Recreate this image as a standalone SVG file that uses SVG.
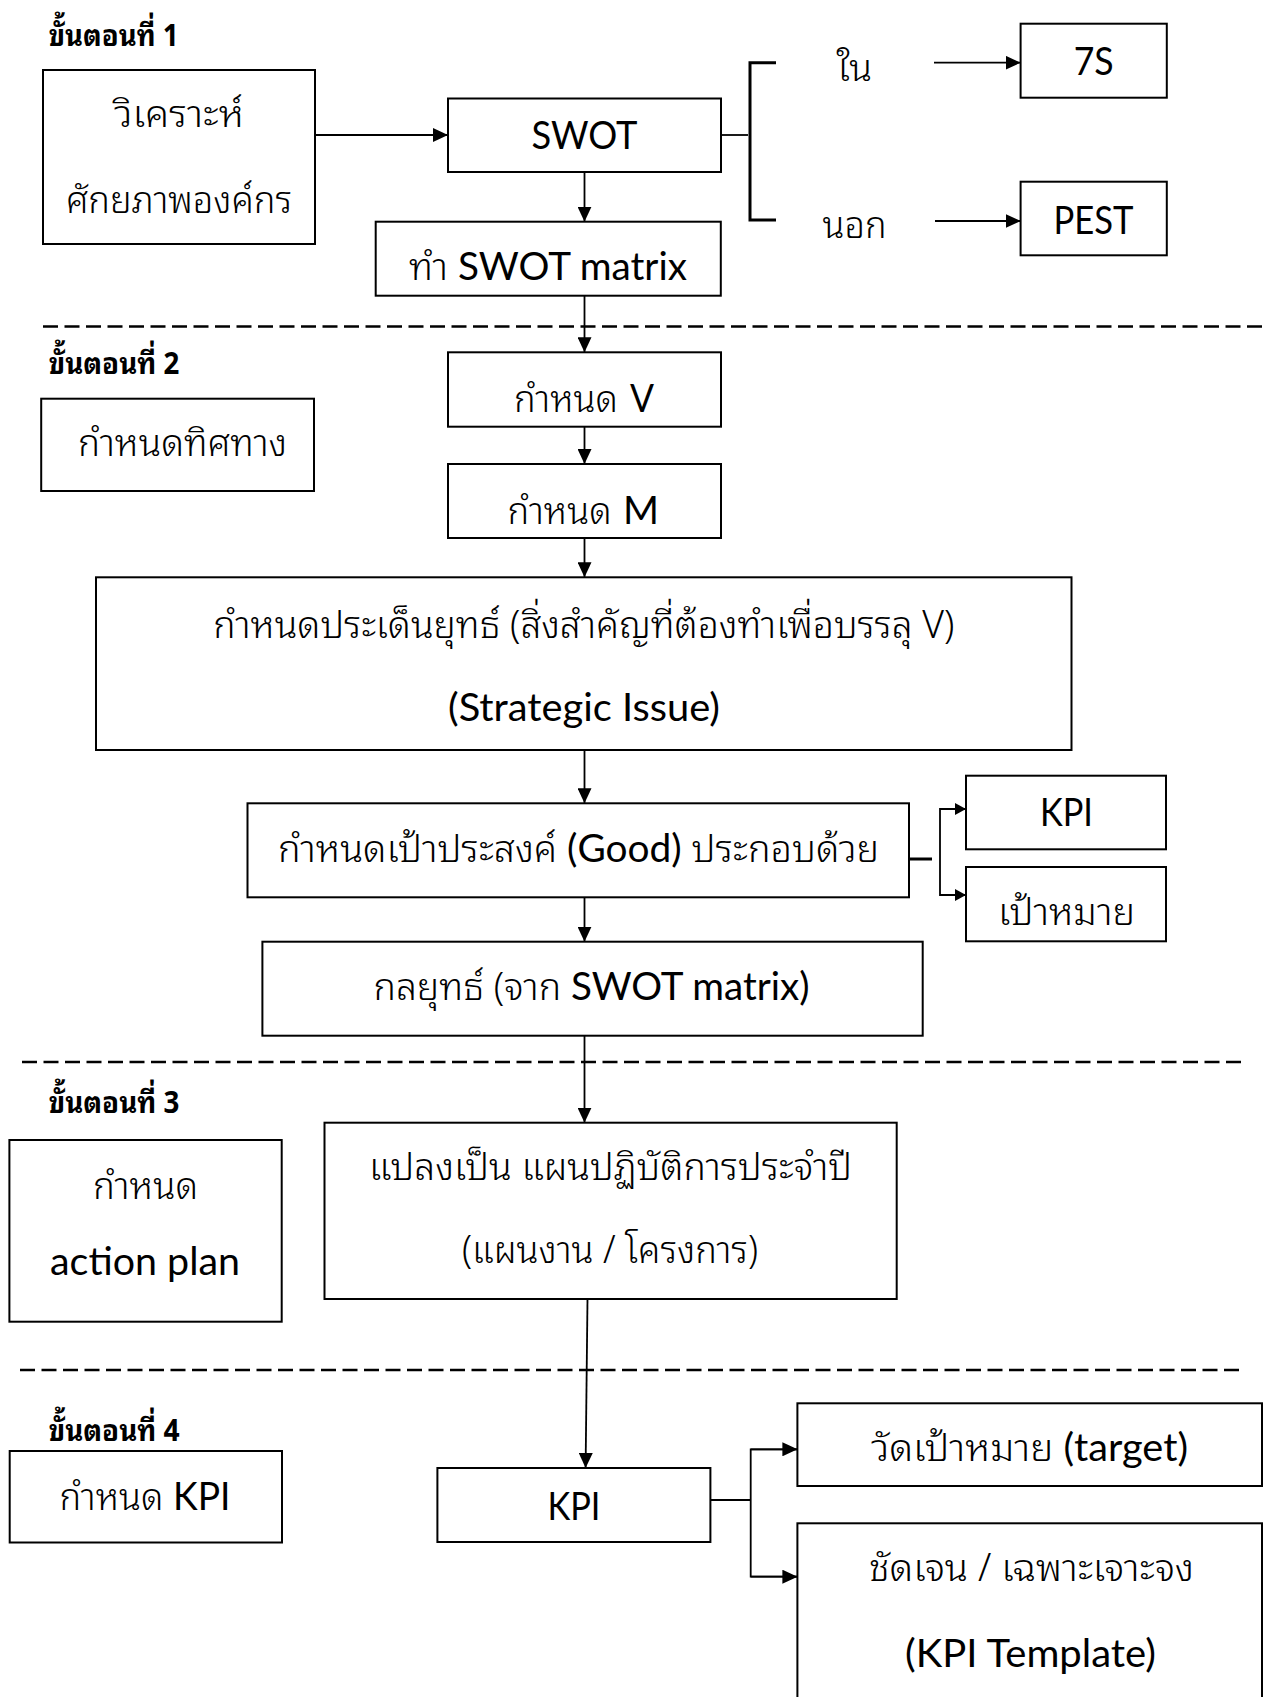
<svg xmlns="http://www.w3.org/2000/svg" width="1263" height="1697" viewBox="0 0 1263 1697">
<style>
.box{fill:#fff;stroke:#000;stroke-width:2}
.ln{fill:none;stroke:#000;stroke-width:1.8}
.br{fill:none;stroke:#000;stroke-width:3}
.dash{fill:none;stroke:#000;stroke-width:2.5;stroke-dasharray:15 6.5}
.t{font-family:Lato,"Noto Sans Thai Looped","Noto Sans Thai",Loma,Garuda,sans-serif;font-size:39px;text-anchor:middle;fill:#000}
.s{text-anchor:start}
.th{font-family:"Noto Sans Thai Looped","Noto Sans Thai",Loma,Garuda,sans-serif;font-size:38px;font-weight:300}
.step{font-family:"Noto Sans Thai Looped","Noto Sans Thai",Loma,Garuda,sans-serif;font-size:30px;font-weight:bold;fill:#000}
</style>
<defs>
<marker id="ah" viewBox="0 0 15 14" refX="15" refY="7" markerWidth="15" markerHeight="14" markerUnits="userSpaceOnUse" orient="auto"><path d="M0,0 L15,7 L0,14 z" fill="#000"/></marker>
<marker id="as" viewBox="0 0 11 12" refX="11" refY="6" markerWidth="11" markerHeight="12" markerUnits="userSpaceOnUse" orient="auto"><path d="M0,0 L11,6 L0,12 z" fill="#000"/></marker>
</defs>
<rect width="1263" height="1697" fill="#fff"/>

<g id="separators">
<line class="dash" x1="43" y1="326.5" x2="1263" y2="326.5"/>
<line class="dash" x1="22" y1="1062" x2="1241" y2="1062"/>
<line class="dash" x1="20" y1="1370" x2="1240" y2="1370"/>
</g>

<g id="step-labels">
<text class="step" x="48.7" y="45.5" textLength="130" lengthAdjust="spacingAndGlyphs">ขั้นตอนที่ 1</text>
<text class="step" x="48.7" y="373.5" textLength="131" lengthAdjust="spacingAndGlyphs">ขั้นตอนที่ 2</text>
<text class="step" x="48.7" y="1112.6" textLength="131" lengthAdjust="spacingAndGlyphs">ขั้นตอนที่ 3</text>
<text class="step" x="48.7" y="1440.5" textLength="131" lengthAdjust="spacingAndGlyphs">ขั้นตอนที่ 4</text>
</g>

<g id="connectors">
<line class="ln" x1="315" y1="135" x2="448" y2="135" marker-end="url(#ah)"/>
<line class="ln" x1="721" y1="135" x2="748" y2="135"/>
<path class="br" d="M776,62.7 H750 V220 H776"/>
<line class="ln" x1="934" y1="62.7" x2="1020.6" y2="62.7" marker-end="url(#ah)"/>
<line class="ln" x1="935" y1="221" x2="1020.6" y2="221" marker-end="url(#ah)"/>
<line class="ln" x1="584.5" y1="172" x2="584.5" y2="221.7" marker-end="url(#ah)"/>
<line class="ln" x1="584.5" y1="295.7" x2="584.5" y2="352.3" marker-end="url(#ah)"/>
<line class="ln" x1="584.5" y1="426.7" x2="584.5" y2="464" marker-end="url(#ah)"/>
<line class="ln" x1="584.5" y1="538" x2="584.5" y2="577.3" marker-end="url(#ah)"/>
<line class="ln" x1="584.5" y1="750" x2="584.5" y2="803.3" marker-end="url(#ah)"/>
<line class="br" x1="909" y1="859" x2="932" y2="859"/>
<path class="ln" d="M966,809 H940 V895 H966" stroke-width="2.5"/>
<line class="ln" x1="940" y1="809" x2="966" y2="809" marker-end="url(#as)"/>
<line class="ln" x1="940" y1="895" x2="966" y2="895" marker-end="url(#as)"/>
<line class="ln" x1="584.5" y1="890" x2="584.5" y2="941.7" marker-end="url(#ah)"/>
<line class="ln" x1="584.5" y1="1035.7" x2="584.5" y2="1122.7" marker-end="url(#ah)"/>
<line class="ln" x1="587.5" y1="1299" x2="585.6" y2="1468" marker-end="url(#ah)"/>
<line class="ln" x1="710.4" y1="1500" x2="750.7" y2="1500" stroke-width="2.5"/>
<path class="ln" d="M797.4,1449.3 H750.7 V1576.7 H797.4" stroke-width="2.5"/>
<line class="ln" x1="750.7" y1="1449.3" x2="797.4" y2="1449.3" marker-end="url(#ah)"/>
<line class="ln" x1="750.7" y1="1576.7" x2="797.4" y2="1576.7" marker-end="url(#ah)"/>
</g>

<g id="n-analyze">
<rect class="box" x="43" y="70" width="272" height="174"/>
<text class="t th" x="179" y="126.6" textLength="130" lengthAdjust="spacingAndGlyphs">วิเคราะห์</text>
<text class="t th" x="179" y="213" textLength="226" lengthAdjust="spacingAndGlyphs">ศักยภาพองค์กร</text>
</g>
<g id="n-swot">
<rect class="box" x="448" y="98.5" width="273" height="73.5"/>
<text class="t" x="584.5" y="149.4" textLength="106" lengthAdjust="spacingAndGlyphs">SWOT</text>
</g>
<g id="n-in-label">
<text class="t th" x="854.3" y="81" textLength="35.5" lengthAdjust="spacingAndGlyphs">ใน</text>
</g>
<g id="n-out-label">
<text class="t th" x="854.5" y="238" textLength="64" lengthAdjust="spacingAndGlyphs">นอก</text>
</g>
<g id="n-7s">
<rect class="box" x="1020.6" y="23.7" width="146.2" height="74"/>
<text class="t" x="1093.7" y="74.7" textLength="40" lengthAdjust="spacingAndGlyphs">7S</text>
</g>
<g id="n-pest">
<rect class="box" x="1020.6" y="181.7" width="146.2" height="73.6"/>
<text class="t" x="1093.5" y="233.8" textLength="80" lengthAdjust="spacingAndGlyphs">PEST</text>
</g>
<g id="n-matrix">
<rect class="box" x="375.7" y="221.7" width="345.1" height="74"/>
<text class="t" x="548" y="280" textLength="278" lengthAdjust="spacingAndGlyphs"><tspan class="th">ทำ</tspan> SWOT matrix</text>
</g>
<g id="n-direction">
<rect class="box" x="41.2" y="398.7" width="272.8" height="92.3"/>
<text class="t th" x="182.5" y="455.6" textLength="209" lengthAdjust="spacingAndGlyphs">กำหนดทิศทาง</text>
</g>
<g id="n-vision">
<rect class="box" x="448" y="352.3" width="273" height="74.4"/>
<text class="t th s" x="514" y="412" textLength="104" lengthAdjust="spacingAndGlyphs">กำหนด</text>
<text class="t s" x="630" y="412" textLength="24" lengthAdjust="spacingAndGlyphs">V</text>
</g>
<g id="n-mission">
<rect class="box" x="448" y="464" width="273" height="74"/>
<text class="t th s" x="507.6" y="523.8" textLength="104" lengthAdjust="spacingAndGlyphs">กำหนด</text>
<text class="t s" x="623" y="523.8" textLength="36" lengthAdjust="spacingAndGlyphs">M</text>
</g>
<g id="n-issue">
<rect class="box" x="96" y="577.3" width="975.5" height="172.7"/>
<text class="t th" x="583.8" y="637.5" textLength="741" lengthAdjust="spacingAndGlyphs">กำหนดประเด็นยุทธ์ (สิ่งสำคัญที่ต้องทำเพื่อบรรลุ V)</text>
<text class="t" x="584" y="720.8" textLength="272" lengthAdjust="spacingAndGlyphs">(Strategic Issue)</text>
</g>
<g id="n-goal">
<rect class="box" x="247.5" y="803.3" width="661.5" height="94"/>
<text class="t" x="578.5" y="861.5" textLength="601" lengthAdjust="spacingAndGlyphs"><tspan class="th">กำหนดเป้าประสงค์</tspan> (Good) <tspan class="th">ประกอบด้วย</tspan></text>
</g>
<g id="n-kpi1">
<rect class="box" x="966" y="775.7" width="200" height="73.6"/>
<text class="t" x="1066.5" y="825.8" textLength="53" lengthAdjust="spacingAndGlyphs">KPI</text>
</g>
<g id="n-target1">
<rect class="box" x="966" y="867" width="200" height="74.3"/>
<text class="t th" x="1066.5" y="925.4" textLength="137" lengthAdjust="spacingAndGlyphs">เป้าหมาย</text>
</g>
<g id="n-strategy">
<rect class="box" x="262.4" y="941.7" width="660.3" height="94"/>
<text class="t" x="591.5" y="1000" textLength="436" lengthAdjust="spacingAndGlyphs"><tspan class="th">กลยุทธ์ (จาก</tspan> SWOT matrix)</text>
</g>
<g id="n-action">
<rect class="box" x="9.4" y="1140" width="272.3" height="181.7"/>
<text class="t th" x="145.5" y="1199" textLength="105" lengthAdjust="spacingAndGlyphs">กำหนด</text>
<text class="t" x="145" y="1275" textLength="190" lengthAdjust="spacingAndGlyphs">action plan</text>
</g>
<g id="n-plan">
<rect class="box" x="324.5" y="1122.7" width="572.2" height="176.3"/>
<text class="t th" x="610.5" y="1179.7" textLength="483" lengthAdjust="spacingAndGlyphs">แปลงเป็น แผนปฏิบัติการประจำปี</text>
<text class="t th" x="610" y="1263" textLength="296" lengthAdjust="spacingAndGlyphs">(แผนงาน / โครงการ)</text>
</g>
<g id="n-define-kpi">
<rect class="box" x="9.7" y="1451" width="272.3" height="91.5"/>
<text class="t" x="145" y="1509.8" textLength="171" lengthAdjust="spacingAndGlyphs"><tspan class="th">กำหนด</tspan> KPI</text>
</g>
<g id="n-kpi2">
<rect class="box" x="437.4" y="1468" width="273" height="74"/>
<text class="t" x="574" y="1519.6" textLength="53" lengthAdjust="spacingAndGlyphs">KPI</text>
</g>
<g id="n-measure">
<rect class="box" x="797.4" y="1403.3" width="464.6" height="82.7"/>
<text class="t" x="1029.5" y="1461" textLength="317" lengthAdjust="spacingAndGlyphs"><tspan class="th">วัดเป้าหมาย</tspan> (target)</text>
</g>
<g id="n-template">
<rect class="box" x="797.4" y="1523.3" width="464.6" height="190"/>
<text class="t th" x="1031.5" y="1581" textLength="325" lengthAdjust="spacingAndGlyphs">ชัดเจน / เฉพาะเจาะจง</text>
<text class="t" x="1030.5" y="1666.7" textLength="251" lengthAdjust="spacingAndGlyphs">(KPI Template)</text>
</g>
</svg>
